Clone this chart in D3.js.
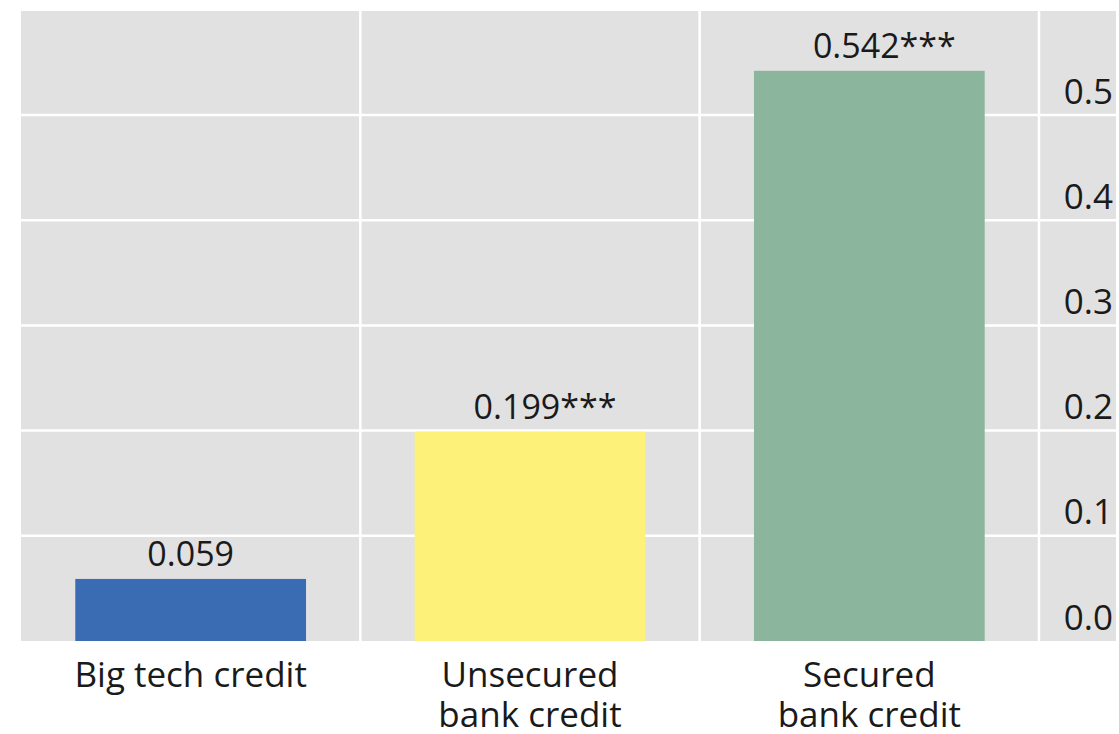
<!DOCTYPE html>
<html>
<head>
<meta charset="utf-8">
<script src="https://cdn.jsdelivr.net/npm/d3@7"></script>
<style>
  html, body { margin: 0; padding: 0; background: #ffffff; }
  svg { display: block; }
  text { font-family: "Open Sans", "Noto Sans", sans-serif; fill: #1a1a1a; }
</style>
</head>
<body>
<svg id="chart" width="1119" height="734"></svg>
<script>
// Coefficient estimates by credit type
const categories = ["Big tech credit", "Unsecured bank credit", "Secured bank credit"];
const categoryLines = [["Big tech credit"], ["Unsecured", "bank credit"], ["Secured", "bank credit"]];
const values = [0.059, 0.199, 0.542];
const valueLabels = ["0.059", "0.199***", "0.542***"];
const barColors = ["#3a6cb4", "#fef17a", "#8cb59e"];
const yTicks = [0.0, 0.1, 0.2, 0.3, 0.4, 0.5];
const yTickLabels = ["0.0", "0.1", "0.2", "0.3", "0.4", "0.5"];

const svg = d3.select("#chart");
const panel = { left: 21, right: 1116, top: 11, bottom: 641 };
const plotRight = 1039;

const x = d3.scaleBand()
  .domain(categories)
  .range([panel.left, plotRight])
  .paddingInner(0)
  .paddingOuter(0);

const y = d3.scaleLinear()
  .domain([0, 0.6])
  .range([panel.bottom, 9.8]);

// grey plotting panel
svg.append("rect")
  .attr("x", panel.left)
  .attr("y", panel.top)
  .attr("width", panel.right - panel.left)
  .attr("height", panel.bottom - panel.top)
  .attr("fill", "#e1e1e1");

// horizontal gridlines
svg.append("g")
  .selectAll("line")
  .data(yTicks.filter(d => d > 0))
  .join("line")
  .attr("x1", panel.left)
  .attr("x2", panel.right)
  .attr("y1", d => y(d))
  .attr("y2", d => y(d))
  .attr("stroke", "#ffffff")
  .attr("stroke-width", 2.5);

// vertical gridlines between categories and before the value axis
const bounds = categories.slice(1).map(c => x(c)).concat([plotRight]);
svg.append("g")
  .selectAll("line")
  .data(bounds)
  .join("line")
  .attr("x1", d => d)
  .attr("x2", d => d)
  .attr("y1", panel.top)
  .attr("y2", panel.bottom)
  .attr("stroke", "#ffffff")
  .attr("stroke-width", 2.5);

// bars
const barW = x.bandwidth() * 0.68;
svg.append("g")
  .selectAll("rect")
  .data(categories)
  .join("rect")
  .attr("x", (d) => x(d) + (x.bandwidth() - barW) / 2)
  .attr("y", (d, i) => y(values[i]))
  .attr("width", barW)
  .attr("height", (d, i) => y(0) - y(values[i]))
  .attr("fill", (d, i) => barColors[i]);

// value labels above bars; the number stays roughly centred, stars trail it
svg.append("g")
  .selectAll("text")
  .data(categories)
  .join("text")
  .attr("x", d => x(d) + x.bandwidth() / 2)
  .attr("y", (d, i) => y(values[i]) - 13)
  .attr("dx", (d, i) => valueLabels[i].includes("*") ? 15 : 0)
  .attr("text-anchor", "middle")
  .attr("font-size", 34)
  .text((d, i) => valueLabels[i]);

// value axis labels on the right, sitting above each gridline
const yAxis = d3.axisRight(y).tickValues(yTicks).tickSize(0).tickPadding(0)
  .tickFormat((d, i) => yTickLabels[i]);
const ya = svg.append("g")
  .attr("transform", `translate(${panel.right - 3},0)`)
  .call(yAxis);
ya.select(".domain").remove();
ya.selectAll("text")
  .attr("text-anchor", "end")
  .attr("y", -12)
  .attr("dy", 0)
  .attr("font-size", 35)
  .attr("font-family", "'Open Sans', 'Noto Sans', sans-serif")
  .attr("fill", "#1a1a1a");

// category labels
const cat = svg.append("g")
  .selectAll("text")
  .data(categories)
  .join("text")
  .attr("x", d => x(d) + x.bandwidth() / 2)
  .attr("y", 687)
  .attr("text-anchor", "middle")
  .attr("font-size", 35);
cat.selectAll("tspan")
  .data((d, i) => categoryLines[i])
  .join("tspan")
  .attr("x", function () { return d3.select(this.parentNode).attr("x"); })
  .attr("dy", (d, j) => j === 0 ? 0 : 40)
  .text(d => d);
</script>
</body>
</html>
